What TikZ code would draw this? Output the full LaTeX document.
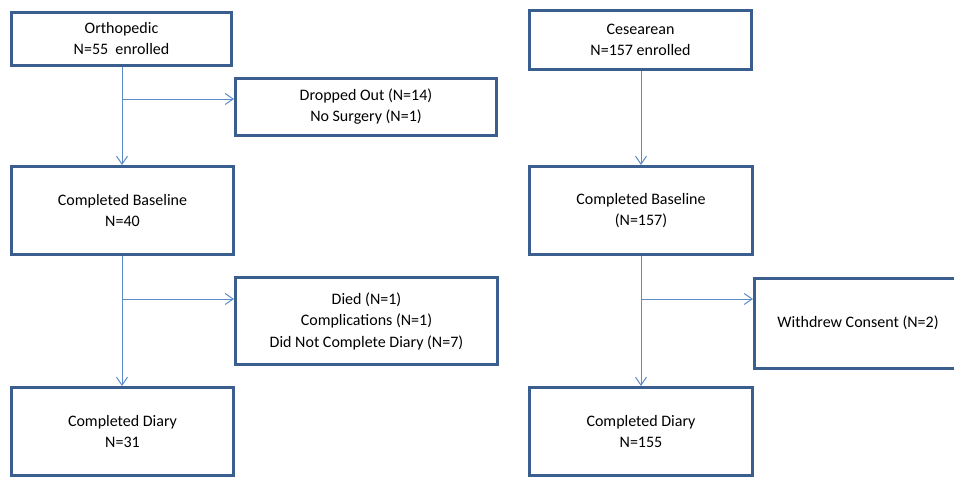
\documentclass[tikz,border=0pt]{standalone}
\usepackage{fontspec}
\setmainfont{Carlito}
\usetikzlibrary{arrows.meta}
\definecolor{boxblue}{HTML}{3A5F8E}
\definecolor{linkblue}{HTML}{5B8BC9}
\tikzset{
  box/.style={draw=boxblue, line width=3pt, rectangle, inner sep=0pt, align=center,
    font=\fontsize{16}{21.5}\selectfont, text=black},
  conn/.style={draw=linkblue, line width=1pt, -{Straight Barb[length=8pt,width=11pt,line width=1pt]}}
}
\begin{document}
\begin{tikzpicture}[x=1pt,y=-1pt]
\clip (0,0) rectangle (954,479);
\fill[white] (0,0) rectangle (954,479);
% left column
\node[box, minimum width=220pt, minimum height=53pt] (ortho) at (121.5,38.5) {Orthopedic\\N=55~~enrolled};
\node[box, minimum width=261pt, minimum height=57pt] (dropped) at (366,106.5) {Dropped Out (N=14)\\No Surgery (N=1)};
\node[box, minimum width=222pt, minimum height=88pt] (baseL) at (122.5,210.5) {Completed Baseline\\N=40};
\node[box, minimum width=262pt, minimum height=87pt] (died) at (366.5,321) {Died (N=1)\\Complications (N=1)\\Did Not Complete Diary (N=7)};
\node[box, minimum width=222pt, minimum height=88pt] (diaryL) at (122.5,431.5) {Completed Diary\\N=31};
% right column
\node[box, minimum width=222pt, minimum height=59pt] (ces) at (640.5,40) {Cesearean\\N=157 enrolled};
\node[box, minimum width=223pt, minimum height=88pt] (baseR) at (641,210.5) {Completed Baseline\\(N=157)};
\node[box, minimum width=207pt, minimum height=90pt] (withdrew) at (858,323) {Withdrew Consent (N=2)};
\node[box, minimum width=223pt, minimum height=88pt] (diaryR) at (641,431.5) {Completed Diary\\N=155};
% branch points
\coordinate (b1) at (122,99);
\coordinate (b2) at (122,299);
\coordinate (b3) at (641,299);
% connectors
\draw[conn] (b1 |- ortho.south) -- (b1 |- baseL.north);
\draw[conn] (b1) -- (b1 -| dropped.west);
\draw[conn] (b2 |- baseL.south) -- (b2 |- diaryL.north);
\draw[conn] (b2) -- (b2 -| died.west);
\draw[conn] (b3 |- ces.south) -- (b3 |- baseR.north);
\draw[conn] (b3 |- baseR.south) -- (b3 |- diaryR.north);
\draw[conn] (b3) -- (b3 -| withdrew.west);
\end{tikzpicture}
\end{document}
